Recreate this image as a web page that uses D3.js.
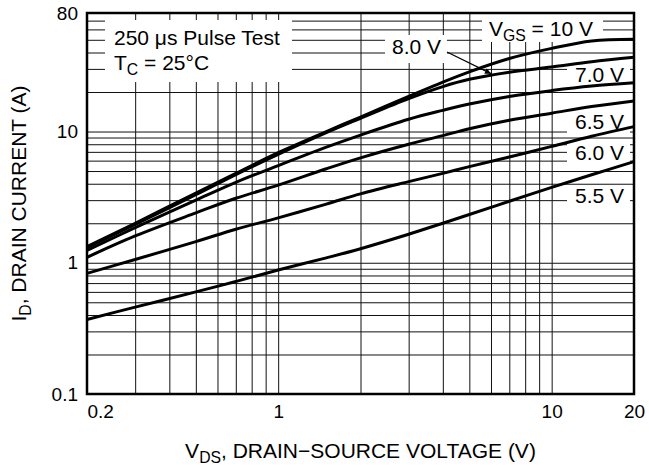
<!DOCTYPE html>
<html>
<head>
<meta charset="utf-8">
<script src="https://cdn.jsdelivr.net/npm/d3@7"></script>
<style>
  body { margin: 0; background: #fff; }
  svg { display: block; font-family: "Liberation Sans", Arial, Helvetica, sans-serif; }
</style>
</head>
<body>
<svg id="chart" width="649" height="467"></svg>
<script>
// drain voltage points (V) shared by every curve
const vds = [0.2, 0.3, 0.5, 0.7, 1, 1.5, 2, 3, 4, 5, 7, 10, 14, 20];

// drain current (A) for each gate voltage
const id10 = [1.33, 2.0, 3.4, 4.8, 6.9, 10.0, 12.9, 18.5, 23.8, 28.5, 36, 43, 49, 50.5];
const id8 = [1.30, 1.96, 3.3, 4.7, 6.7, 9.8, 12.6, 17.8, 22.0, 25.0, 28.3, 31.0, 34.0, 36.8];
const id7 = [1.24, 1.85, 3.0, 4.1, 5.5, 7.6, 9.4, 12.4, 14.5, 16.2, 18.5, 20.5, 22.2, 23.5];
const id65 = [1.10, 1.6, 2.4, 3.1, 3.9, 5.2, 6.3, 8.0, 9.3, 10.5, 12.2, 13.8, 15.5, 17.1];
const id6 = [0.83, 1.06, 1.45, 1.8, 2.2, 2.8, 3.35, 4.15, 4.8, 5.4, 6.4, 7.7, 9.2, 10.9];
const id55 = [0.37, 0.459, 0.60, 0.72, 0.88, 1.09, 1.28, 1.65, 2.0, 2.33, 2.94, 3.75, 4.68, 5.9];

const curves = [id10, id8, id7, id65, id6, id55];

// grid + tick labels
const xGridVals = [0.3, 0.4, 0.5, 0.6, 0.7, 0.8, 0.9, 1, 2, 3, 4, 5, 6, 7, 8, 9, 10];
const yGridVals = [0.2, 0.3, 0.4, 0.5, 0.6, 0.7, 0.8, 0.9, 1, 2, 3, 4, 5, 6, 7, 8, 9, 10, 20, 30, 40, 50, 60, 70];
const xTicks = [0.2, 1, 10, 20];
const xTickLabels = ["0.2", "1", "10", "20"];
const yTicks = [0.1, 1, 10, 80];
const yTickLabels = ["0.1", "1", "10", "80"];

const pLeft = 87, pRight = 634, pTop = 13, pBottom = 394;

let x = d3.scaleLog().domain([0.2, 20]).range([pLeft, pRight]);
let y = d3.scaleLog().domain([0.1, 80]).range([pBottom, pTop]);

let svg = d3.select("#chart");

// grid lines through the axis generators
svg.append("g")
    .attr("transform", "translate(0," + pBottom + ")")
    .call(d3.axisBottom(x).tickValues(xGridVals).tickSize(-(pBottom - pTop)).tickFormat(""))
    .call(g => g.select(".domain").remove())
    .selectAll("line").attr("stroke", "#111").attr("stroke-width", 1);

svg.append("g")
    .attr("transform", "translate(" + pLeft + ",0)")
    .call(d3.axisLeft(y).tickValues(yGridVals).tickSize(-(pRight - pLeft)).tickFormat(""))
    .call(g => g.select(".domain").remove())
    .selectAll("line").attr("stroke", "#111").attr("stroke-width", 1);

// white boxes behind the annotations
const boxes = [
    [105, 20, 187, 62],
    [385, 35, 62, 28],
    [482, 14, 121, 28],
    [567, 64, 63, 24],
    [567, 111, 63, 23],
    [567, 142, 63, 23],
    [567, 185, 63, 23]
];
svg.append("g").selectAll("rect")
    .data(boxes)
    .enter().append("rect")
    .attr("x", d => d[0]).attr("y", d => d[1])
    .attr("width", d => d[2]).attr("height", d => d[3])
    .attr("fill", "#fff");

// frame
svg.append("rect")
    .attr("x", pLeft).attr("y", pTop)
    .attr("width", pRight - pLeft).attr("height", pBottom - pTop)
    .attr("fill", "none").attr("stroke", "#000").attr("stroke-width", 2.5);

// curves
let line = d3.line()
    .x(d => x(d[0]))
    .y(d => y(d[1]))
    .curve(d3.curveCatmullRom.alpha(0.5));

svg.append("g").selectAll("path")
    .data(curves)
    .enter().append("path")
    .attr("d", d => line(d3.zip(vds, d)))
    .attr("fill", "none")
    .attr("stroke", "#000")
    .attr("stroke-width", 3)
    .attr("stroke-linejoin", "round");

// tick labels
svg.append("g")
    .attr("transform", "translate(0," + pBottom + ")")
    .call(d3.axisBottom(x).tickValues(xTicks).tickSize(0).tickPadding(11)
        .tickFormat((d, i) => xTickLabels[i]))
    .call(g => g.select(".domain").remove())
    .selectAll("text")
    .attr("font-size", 19).attr("fill", "#000")
    .attr("text-anchor", (d, i) => i == 0 ? "start" : "middle");

svg.append("g")
    .attr("transform", "translate(" + pLeft + ",0)")
    .call(d3.axisLeft(y).tickValues(yTicks).tickSize(0).tickPadding(9)
        .tickFormat((d, i) => yTickLabels[i]))
    .call(g => g.select(".domain").remove())
    .selectAll("text")
    .attr("font-size", 19).attr("fill", "#000");

svg.selectAll(".tick text").attr("font-family", "Liberation Sans, Arial, sans-serif");

// helper for text with a subscript
function subText(g, px, py, main, sub, rest, size, anchor) {
    let t = g.append("text")
        .attr("x", px).attr("y", py)
        .attr("font-size", size)
        .attr("text-anchor", anchor || "start");
    t.append("tspan").text(main);
    if (sub) {
        t.append("tspan").attr("dy", 5).attr("font-size", size * 0.75).text(sub);
        t.append("tspan").attr("dy", -5).text(rest);
    }
    return t;
}

// axis titles
subText(svg, (pLeft + pRight) / 2, 458, "V", "DS", ", DRAIN\u2212SOURCE VOLTAGE (V)", 21, "middle");
let yt = svg.append("g").attr("transform", "translate(26," + ((pTop + pBottom) / 2) + ") rotate(-90)");
subText(yt, 0, 0, "I", "D", ", DRAIN CURRENT (A)", 21, "middle");

// annotations
subText(svg, 114, 45, "250 \u03bcs Pulse Test", null, null, 21);
subText(svg, 114, 70, "T", "C", " = 25\u00b0C", 21);
subText(svg, 489, 36, "V", "GS", " = 10 V", 21);
subText(svg, 392, 54, "8.0 V", null, null, 21);
subText(svg, 575, 82, "7.0 V", null, null, 21);
subText(svg, 575, 129, "6.5 V", null, null, 21);
subText(svg, 575, 160, "6.0 V", null, null, 21);
subText(svg, 575, 203, "5.5 V", null, null, 21);

// leader arrow for 8.0 V
svg.append("defs").append("marker")
    .attr("id", "arr")
    .attr("viewBox", "0 0 10 10")
    .attr("refX", 10).attr("refY", 5)
    .attr("markerWidth", 9).attr("markerHeight", 6)
    .attr("markerUnits", "userSpaceOnUse")
    .attr("orient", "auto")
    .append("path").attr("d", "M0,0L10,5L0,10z").attr("fill", "#000");

svg.append("line")
    .attr("x1", 447).attr("y1", 52)
    .attr("x2", x(6.0)).attr("y2", y(27.6))
    .attr("stroke", "#000").attr("stroke-width", 1.2)
    .attr("marker-end", "url(#arr)");
</script>
</body>
</html>
